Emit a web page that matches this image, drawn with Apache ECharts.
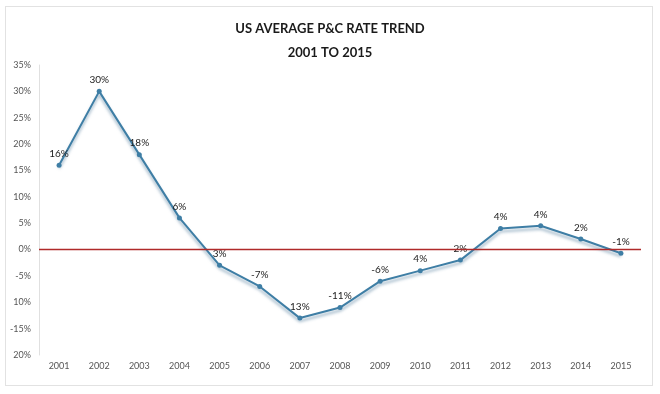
<!DOCTYPE html>
<html>
<head>
<meta charset="utf-8">
<script src="https://cdn.jsdelivr.net/npm/echarts@6/dist/echarts.min.js"></script>
<style>
html,body{margin:0;padding:0;background:#fff;}
#frame{position:absolute;left:5px;top:6px;width:648px;height:380px;border:1px solid #e2e2e2;box-sizing:border-box;}
#chart{position:absolute;left:0;top:0;width:660px;height:394px;}
</style>
</head>
<body>
<div id="frame"></div>
<div id="chart"></div>
<script>
const titleLines = ['US AVERAGE P&C RATE TREND', '2001 TO 2015'];
const years = ['2001','2002','2003','2004','2005','2006','2007','2008','2009','2010','2011','2012','2013','2014','2015'];
const rates = [16, 30, 18, 6, -3, -7, -13, -11, -6, -4, -2, 4, 4.5, 2, -0.7];
const pointLabels = ['16%','30%','18%','6%','3%','-7%','13%','-11%','-6%','4%','2%','4%','4%','2%','-1%'];
const yTickLabels = {35:'35%',30:'30%',25:'25%',20:'20%',15:'15%',10:'10%',5:'5%',0:'0%','-5':'-5%','-10':'10%','-15':'-15%','-20':'20%'};

const chart = echarts.init(document.getElementById('chart'), null, {renderer:'canvas'});
const font = 'Lato';
chart.setOption({
  animation: false,
  backgroundColor: 'transparent',
  title: {
    text: titleLines.join('\n'),
    left: 'center',
    top: 12,
    textStyle: {fontFamily: 'Lato', fontWeight: 'bold', fontSize: 13, lineHeight: 24, color: '#1a1a1a'}
  },
  grid: {left: 39, right: 19, top: 65, bottom: 39},
  xAxis: {
    type: 'category',
    data: years,
    boundaryGap: true,
    axisLine: {show: false},
    axisTick: {show: false},
    axisLabel: {fontFamily: font, fontSize: 9, color: '#555', margin: 7}
  },
  yAxis: {
    type: 'value',
    min: -20, max: 35, interval: 5,
    axisLine: {show: true, lineStyle: {color: '#e0e0e0', width: 1}},
    axisTick: {show: false},
    splitLine: {show: false},
    axisLabel: {fontFamily: font, fontSize: 9, color: '#555', margin: 8,
      formatter: v => yTickLabels[String(v)] !== undefined ? yTickLabels[String(v)] : v + '%'}
  },
  series: [{
    type: 'line',
    data: rates,
    symbol: 'circle',
    symbolSize: 5,
    itemStyle: {color: '#3e7ea5'},
    lineStyle: {color: '#3e7ea5', width: 2, shadowColor: 'rgba(90,130,160,0.6)', shadowBlur: 3, shadowOffsetY: 3},
    label: {
      show: true, position: 'top', distance: 4,
      fontFamily: font, fontSize: 10, color: '#222',
      formatter: p => pointLabels[p.dataIndex]
    },
    markLine: {
      silent: true, symbol: 'none', label: {show: false},
      lineStyle: {color: '#b02a2a', width: 1.3, type: 'solid', shadowBlur: 0, shadowOffsetY: 0, shadowColor: 'transparent'},
      data: [{yAxis: 0}]
    },
    z: 3
  }]
});
</script>
</body>
</html>
